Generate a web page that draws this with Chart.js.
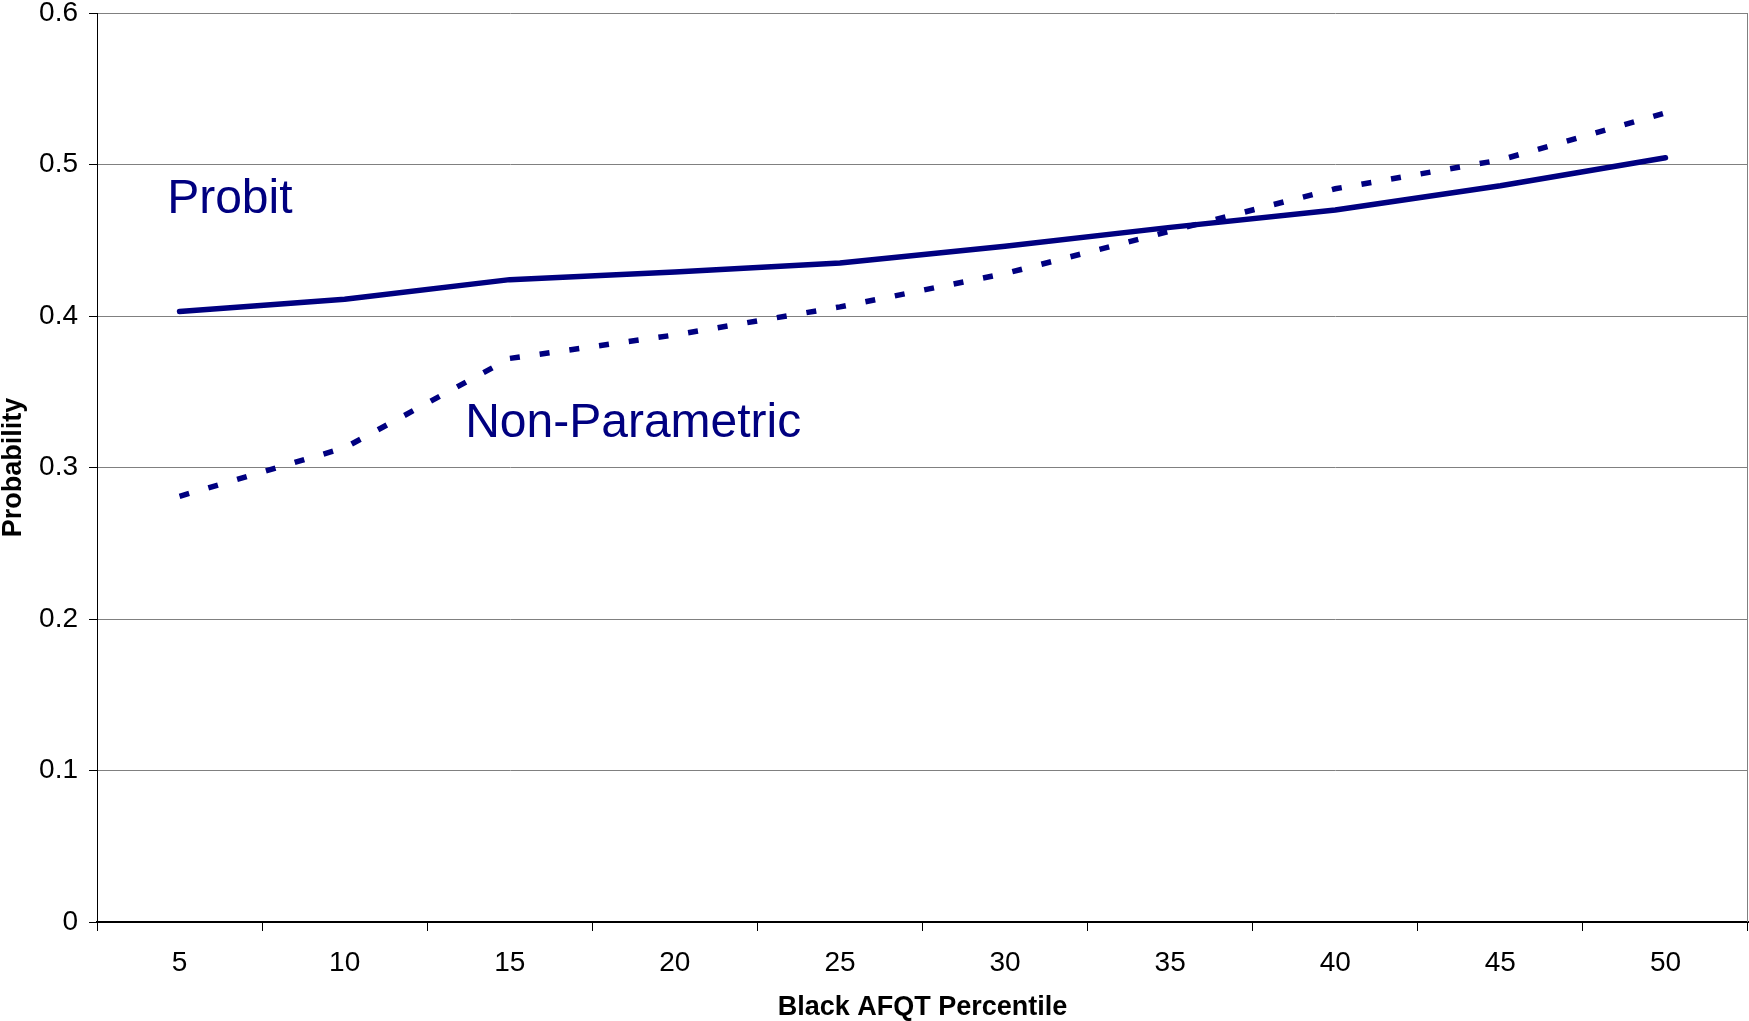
<!DOCTYPE html>
<html>
<head>
<meta charset="utf-8">
<script src="https://cdn.jsdelivr.net/npm/chart.js@4/dist/chart.umd.min.js"></script>
<style>
  body { margin: 0; background: #fff; }
  #wrap { width: 1749px; height: 1021px; position: relative; }
</style>
</head>
<body>
<div id="wrap"><canvas id="probChart"></canvas></div>
<script>
// Chart data
const percentiles = ['5', '10', '15', '20', '25', '30', '35', '40', '45', '50'];
const probit = [0.403, 0.411, 0.424, 0.429, 0.435, 0.446, 0.4585, 0.470, 0.486, 0.5045];
const nonParametric = [0.281, 0.313, 0.372, 0.3875, 0.406, 0.428, 0.456, 0.484, 0.503, 0.534];
const yTickLabels = ['0', '0.1', '0.2', '0.3', '0.4', '0.5', '0.6'];

// In-chart series labels (category index, probability)
const seriesNames = ['Probit', 'Non-Parametric'];
const nameAtIndex = [-0.075, 1.73];
const nameAtValue = [0.477, 0.329];

const navy = '#000080';
const tickFont = { family: 'Liberation Sans, Arial, sans-serif', size: 28, lineHeight: 1.0 };
const titleFont = { family: 'Liberation Sans, Arial, sans-serif', size: 27, weight: 'bold', lineHeight: 1.0 };

// Draws the series names and the right frame edge
const extrasPlugin = {
    id: 'extras',
    afterDatasetsDraw(chart) {
        const { ctx, chartArea, scales } = chart;
        ctx.save();
        ctx.strokeStyle = '#808080';
        ctx.lineWidth = 1;
        ctx.beginPath();
        ctx.moveTo(chartArea.right - 0.5, chartArea.top);
        ctx.lineTo(chartArea.right - 0.5, chartArea.bottom);
        ctx.stroke();

        ctx.fillStyle = navy;
        ctx.font = '48px "Liberation Sans", Arial, sans-serif';
        ctx.textAlign = 'left';
        ctx.textBaseline = 'middle';
        seriesNames.forEach((name, i) => {
            const x = scales.x.getPixelForValue(nameAtIndex[i]);
            const y = scales.y.getPixelForValue(nameAtValue[i]);
            ctx.fillText(name, x, y);
        });
        ctx.restore();
    }
};

new Chart(document.getElementById('probChart'), {
    type: 'line',
    data: {
        labels: percentiles,
        datasets: [{
            label: 'Probit',
            data: probit,
            borderColor: navy,
            borderWidth: 5.5,
            borderCapStyle: 'round',
            borderJoinStyle: 'round',
            pointRadius: 0,
            tension: 0,
        }, {
            label: 'Non-Parametric',
            data: nonParametric,
            borderColor: navy,
            borderWidth: 5.5,
            borderDash: [10, 20],
            borderCapStyle: 'butt',
            pointRadius: 0,
            tension: 0,
        }]
    },
    options: {
        responsive: true,
        maintainAspectRatio: false,
        animation: false,
        layout: {
            padding: { top: 0, right: 1, left: 0, bottom: 0 },
        },
        plugins: {
            legend: { display: false },
            tooltip: { enabled: false },
        },
        scales: {
            x: {
                offset: true,
                grid: {
                    offset: true,
                    drawOnChartArea: false,
                    drawTicks: true,
                    tickLength: 9,
                    color: '#000',
                },
                border: { color: '#000', width: 2 },
                ticks: {
                    color: '#000',
                    font: tickFont,
                    padding: 18,
                    maxRotation: 0,
                },
                title: {
                    display: true,
                    text: 'Black AFQT Percentile',
                    color: '#000',
                    font: titleFont,
                    padding: { top: 0, bottom: 0 },
                },
                afterFit(scale) { scale.height = 99; },
            },
            y: {
                min: 0,
                max: 0.6,
                ticks: {
                    stepSize: 0.1,
                    color: '#000',
                    font: tickFont,
                    padding: 11,
                    callback: (value, index) => yTickLabels[index],
                },
                grid: {
                    color: '#808080',
                    tickColor: '#000',
                    tickLength: 8,
                    lineWidth: 1,
                },
                border: { color: '#000', width: 1 },
                title: {
                    display: true,
                    text: 'Probability',
                    color: '#000',
                    font: titleFont,
                    padding: { top: 0, bottom: 0 },
                },
                afterFit(scale) {
                    scale.width = 97;
                    scale.paddingTop = 13;
                },
            },
        },
    },
    plugins: [extrasPlugin],
});
</script>
</body>
</html>
